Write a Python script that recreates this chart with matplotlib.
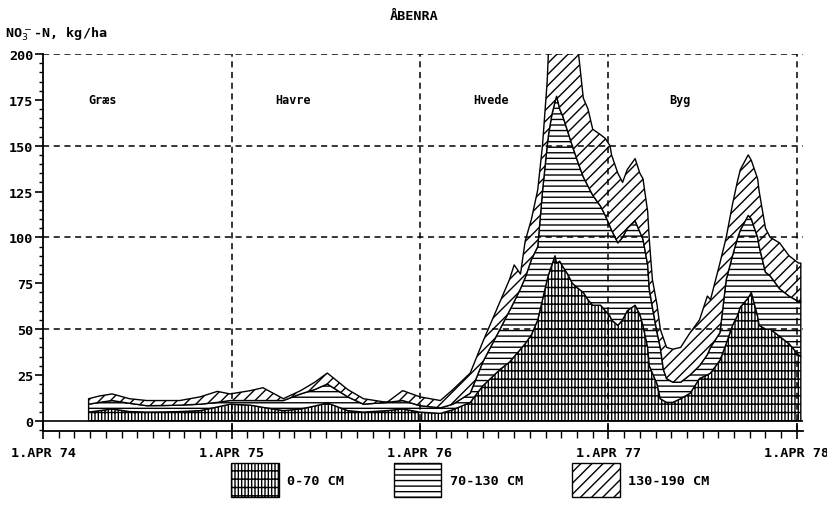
import numpy as np
import matplotlib.pyplot as plt
from matplotlib.ticker import MultipleLocator
from matplotlib.patches import Patch

# time in months counted from 1.APR 74
months = [2.9, 3.6, 4.4, 5.5, 6.6, 7.8, 8.7, 10.0, 11.1, 11.9,
          13.2, 14.0, 15.3, 16.4, 17.3, 18.1, 19.4, 20.4, 21.9, 22.9,
          24.0, 25.3, 26.1, 27.2, 28.0, 29.1, 29.7, 30.0, 30.4, 30.7,
          31.1, 31.5, 31.8, 32.1, 32.2, 32.4, 32.6, 32.7, 32.9, 33.1,
          33.4, 33.7, 34.1, 34.4, 34.7, 35.0, 35.5, 35.8, 36.1, 36.2,
          36.6, 36.9, 37.2, 37.7, 38.0, 38.2, 38.5, 38.6, 38.8, 39.1,
          39.3, 39.5, 39.7, 40.1, 40.6, 41.2, 41.8, 42.3, 42.5, 43.1,
          43.5, 43.9, 44.2, 44.4, 44.9, 45.1, 45.5, 45.6, 46.0, 46.3,
          46.9, 47.5, 48.1, 48.25]

# cumulative NO3-N (kg/ha) down to 70, 130 and 190 cm
upto_70 = [4.7, 5.5, 6.4, 5.0, 4.7, 4.8, 5.0, 5.5, 7.5, 9.0,
           8.5, 7.3, 5.5, 6.4, 8.0, 9.7, 5.5, 4.7, 5.5, 6.4,
           4.7, 4.0, 6.0, 10, 19, 28, 32, 35, 39, 42,
           47, 55, 66, 77, 80, 85, 90, 86, 87, 84,
           80, 75, 72, 70, 66, 63, 63, 60, 57, 55,
           52, 55, 60, 63, 58, 52, 40, 30, 26, 20,
           12, 11, 10, 10, 12, 15, 23, 25, 26, 33,
           42, 52, 57, 62, 67, 70, 57, 52, 50, 50,
           46, 42, 36, 35]
upto_130 = [9.0, 10, 11, 9.5, 8.2, 8.3, 8.5, 9.0, 10, 11,
            11, 11, 11, 14.6, 17, 20, 13, 9.0, 10, 11,
            8.2, 7.0, 9.0, 15, 32, 50, 60, 65, 72, 78,
            88, 95, 125, 150, 157, 167, 174, 177, 170, 166,
            158, 150, 140, 133, 128, 123, 117, 112, 106, 104,
            97, 100, 105, 109, 103, 99, 85, 72, 62, 48,
            40, 28, 23, 21, 21, 25, 30, 36, 40, 48,
            77, 90, 99, 104, 112, 110, 100, 95, 81, 79,
            72, 68, 65, 65]
upto_190 = [12, 13.5, 14.6, 12, 11, 11, 11, 13, 16, 14.6,
            16.4, 18, 12, 16.4, 21, 26, 17, 12, 10, 16.4,
            13, 11, 17, 26, 43, 65, 77, 85, 80, 98,
            110, 126, 150, 185, 205, 212, 212, 212, 212, 212,
            212, 206, 200, 176, 170, 159, 156, 154, 150, 145,
            135, 130, 137, 143, 135, 132, 114, 99, 77, 63,
            50, 45, 40, 39, 40, 48, 55, 68, 66, 86,
            100, 118, 130, 137, 145, 142, 132, 125, 105, 100,
            97, 90, 86, 86]

year_ticks = [0, 12, 24, 36, 48]
year_labels = ['1.APR 74', '1.APR 75', '1.APR 76', '1.APR 77', '1.APR 78']
crops = ['Græs', 'Havre', 'Hvede', 'Byg']
crop_start = [2.9, 14.8, 27.4, 39.9]
layers = ['0-70 CM', '70-130 CM', '130-190 CM']
hatches = ['|||||--', '---', '///']
grid_levels = [50, 100, 150, 200]

mono = {'family': 'DejaVu Sans Mono', 'weight': 'bold'}
fs = 9.7

fig = plt.figure(figsize=(8.28, 5.10), dpi=100)
ax = fig.add_axes([0.052, 0.153, 0.918, 0.739])

x = np.array(months)
lo = np.zeros_like(x)
for top, h in zip([upto_70, upto_130, upto_190], hatches):
    ax.fill_between(x, lo, top, facecolor='white', edgecolor='black',
                    hatch=h, linewidth=1.0, zorder=2)
    lo = np.array(top)

ax.axhline(0, color='black', lw=1.2, zorder=3)
for g in grid_levels:
    ax.axhline(g, color='black', lw=1.1, ls=(0, (4, 3)), zorder=4)
for t in year_ticks[1:]:
    ax.axvline(t, color='black', lw=1.1, ls=(0, (4, 3)), zorder=4)

for name, m in zip(crops, crop_start):
    ax.text(m, 175, name, fontsize=8.5, ha='left', va='center', **mono)

ax.set_xlim(0, 48.4)
ax.set_ylim(-5.6, 200)
ax.spines['top'].set_visible(False)
ax.spines['right'].set_visible(False)
ax.spines['left'].set_linewidth(1.3)
ax.spines['bottom'].set_linewidth(1.3)

ax.set_xticks(year_ticks)
ax.set_xticklabels(year_labels)
ax.xaxis.set_minor_locator(MultipleLocator(1))
ax.set_yticks(np.arange(0, 201, 25))
ax.yaxis.set_minor_locator(MultipleLocator(5))
ax.tick_params(axis='x', which='major', direction='inout', length=12, width=1.2, pad=4.5)
ax.tick_params(axis='x', which='minor', direction='out', length=5, width=1.0)
ax.tick_params(axis='y', which='major', direction='out', length=6, width=1.2, pad=1)
ax.tick_params(axis='y', which='minor', direction='out', length=3, width=1.0)
for lab in ax.get_xticklabels() + ax.get_yticklabels():
    lab.set_fontfamily('DejaVu Sans Mono')
    lab.set_fontweight('bold')
    lab.set_fontsize(fs)

fig.text(0.5, 0.968, 'ÅBENRA', ha='center', va='center', fontsize=fs, **mono)
fig.text(0.006, 0.932, r'NO$_3^-$-N, kg/ha', ha='left', va='center', fontsize=fs, **mono)

handles = [Patch(facecolor='white', edgecolor='black', hatch=h) for h in hatches]
fig.legend(handles, layers, loc='center', bbox_to_anchor=(0.568, 0.057), ncol=3,
           frameon=False, handlelength=3.55, handleheight=3.5, columnspacing=3.7,
           handletextpad=0.6, prop={'family': 'DejaVu Sans Mono', 'weight': 'bold', 'size': fs})

fig.savefig('out.png', dpi=100)
